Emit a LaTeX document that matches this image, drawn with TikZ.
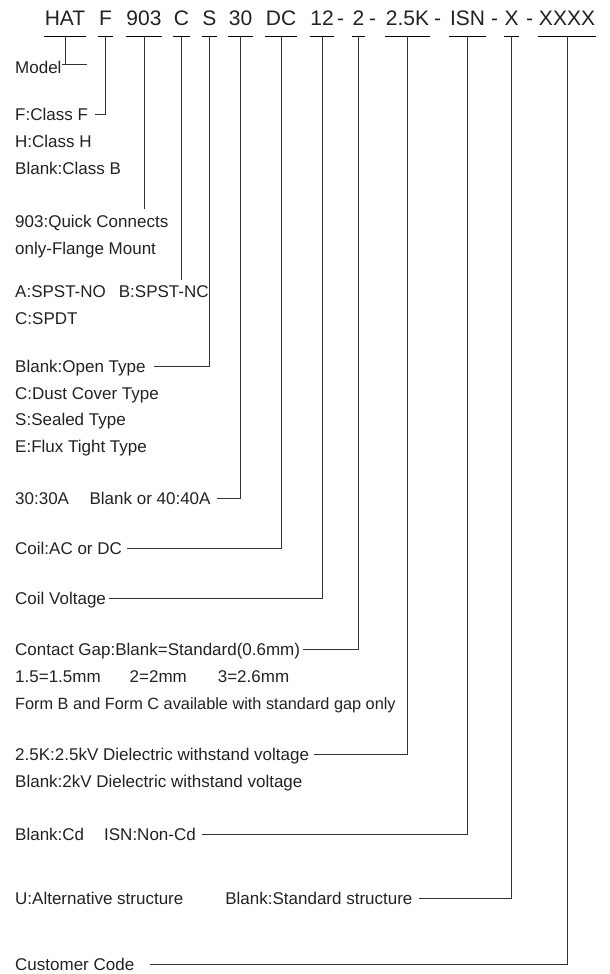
\documentclass[tikz,border=0pt]{standalone}
\usepackage{fontspec}
\setmainfont{Liberation Sans}
\usetikzlibrary{calc}
\definecolor{inkgray}{HTML}{222222}
\definecolor{wiregray}{HTML}{333333}

\tikzset{
  code/.style={anchor=base,inner xsep=0.5pt,inner ysep=10pt,text=inkgray,font=\fontsize{21}{25}\selectfont},
  label/.style={anchor=base west,inner sep=0pt,text=inkgray,font=\fontsize{17}{20}\selectfont},
  note/.style={label,font=\fontsize{16.3}{19}\selectfont},
  wire/.style={draw=wiregray,line width=1pt},
  under/.style={draw=black,line width=1pt}
}

\begin{document}
\begin{tikzpicture}[x=1pt,y=-1pt]
  \useasboundingbox (0,0) rectangle (610,974);

  % Part number
  \node[code] (hat) at (65,26) {HAT};
  \node[code] (f) at (105.5,26) {F};
  \node[code] (n903) at (144,26) {903};
  \node[code] (c) at (181.5,26) {C};
  \node[code] (s) at (209.5,26) {S};
  \node[code] (n30) at (240.5,26) {30};
  \node[code] (dc) at (281,26) {DC};
  \node[code] (n12) at (322,26) {12};
  \node[code] (d1) at (340.5,26) {-};
  \node[code] (n2) at (358.5,26) {2};
  \node[code] (d2) at (372.5,26) {-};
  \node[code] (n25k) at (407.5,26) {2.5K};
  \node[code] (d3) at (437.5,26) {-};
  \node[code] (isn) at (467.5,26) {ISN};
  \node[code] (d4) at (494.5,26) {-};
  \node[code] (nx) at (511.5,26) {X};
  \node[code] (d5) at (529.5,26) {-};
  \node[code] (xxxx) at (567,26) {XXXX};

  % Underlines
  \draw[under] (hat.south west) -- (hat.south east);
  \draw[under] (f.south west) -- (f.south east);
  \draw[under] (n903.south west) -- (n903.south east);
  \draw[under] (c.south west) -- (c.south east);
  \draw[under] (s.south west) -- (s.south east);
  \draw[under] (n30.south west) -- (n30.south east);
  \draw[under] (dc.south west) -- (dc.south east);
  \draw[under] (n12.south west) -- (n12.south east);
  \draw[under] (n2.south west) -- (n2.south east);
  \draw[under] (n25k.south west) -- (n25k.south east);
  \draw[under] (isn.south west) -- (isn.south east);
  \draw[under] (nx.south west) -- (nx.south east);
  \draw[under] (xxxx.south west) -- (xxxx.south east);

  % Model and insulation class
  \node[label] (model) at (15,74) {Model};
  \node[label] (clsf) at (15,120) {F:Class F};
  \node[label] (clsh) at (15,147) {H:Class H};
  \node[label] (clsb) at (15,174) {Blank:Class B};

  % Terminals and contact form
  \node[label] (quick) at (15,227) {903:Quick Connects};
  \node[label] (flange) at (15,254) {only-Flange Mount};
  \node[label] (form) at (15,297) {A:SPST-NO\hspace{13pt}B:SPST-NC};
  \node[label] (spdt) at (15,324) {C:SPDT};

  % Enclosure
  \node[label] (open) at (15,372) {Blank:Open Type};
  \node[label] (dust) at (15,399) {C:Dust Cover Type};
  \node[label] (sealed) at (15,425) {S:Sealed Type};
  \node[label] (flux) at (15,452) {E:Flux Tight Type};

  % Rating and coil
  \node[label] (amp) at (15,504) {30:30A\hspace{20.5pt}Blank or 40:40A};
  \node[label] (coil) at (15,554) {Coil:AC or DC};
  \node[label] (volt) at (15,604) {Coil Voltage};

  % Contact gap
  \node[label] (gap) at (15,655) {Contact Gap:Blank=Standard(0.6mm)};
  \node[label] (gaps) at (15,682) {1.5=1.5mm\hspace{29pt}2=2mm\hspace{31pt}3=2.6mm};
  \node[note] (formbc) at (15,709) {Form B and Form C available with standard gap only};

  % Dielectric, cadmium, structure, customer
  \node[label] (diel) at (15,760) {2.5K:2.5kV Dielectric withstand voltage};
  \node[label] (diel2) at (15,787) {Blank:2kV Dielectric withstand voltage};
  \node[label] (cd) at (15,840) {Blank:Cd\hspace{20pt}ISN:Non-Cd};
  \node[label] (alt) at (15,904) {U:Alternative structure\hspace{42pt}Blank:Standard structure};
  \node[label] (cust) at (15,970) {Customer Code};

  % Leaders
  \coordinate (m1) at ([yshift=9pt]model.base east);
  \draw[wire] (m1) -- ++(25,0);
  \draw[wire] (hat.south) -- (hat.south |- m1);
  \draw[wire] (f.south) |- ([shift={(7pt,6pt)}]clsf.base east);
  \draw[wire] (n903.south) -- ($(n903.south |- quick.north)+(0,-5)$);
  \draw[wire] (c.south) -- ($(c.south |- form.north)+(0,-5)$);
  \draw[wire] (s.south) |- ([shift={(8pt,6pt)}]open.base east);
  \draw[wire] (n30.south) |- ([shift={(6pt,6pt)}]amp.base east);
  \draw[wire] (dc.south) |- ([shift={(5pt,6pt)}]coil.base east);
  \draw[wire] (n12.south) |- ([shift={(3pt,6pt)}]volt.base east);
  \draw[wire] (n2.south) |- ([shift={(3pt,6pt)}]gap.base east);
  \draw[wire] (n25k.south) |- ([shift={(5pt,6pt)}]diel.base east);
  \draw[wire] (isn.south) |- ([shift={(6pt,6pt)}]cd.base east);
  \draw[wire] (nx.south) |- ([shift={(6pt,6pt)}]alt.base east);
  \draw[wire] (xxxx.south) |- ([shift={(16pt,6pt)}]cust.base east);
\end{tikzpicture}
\end{document}
